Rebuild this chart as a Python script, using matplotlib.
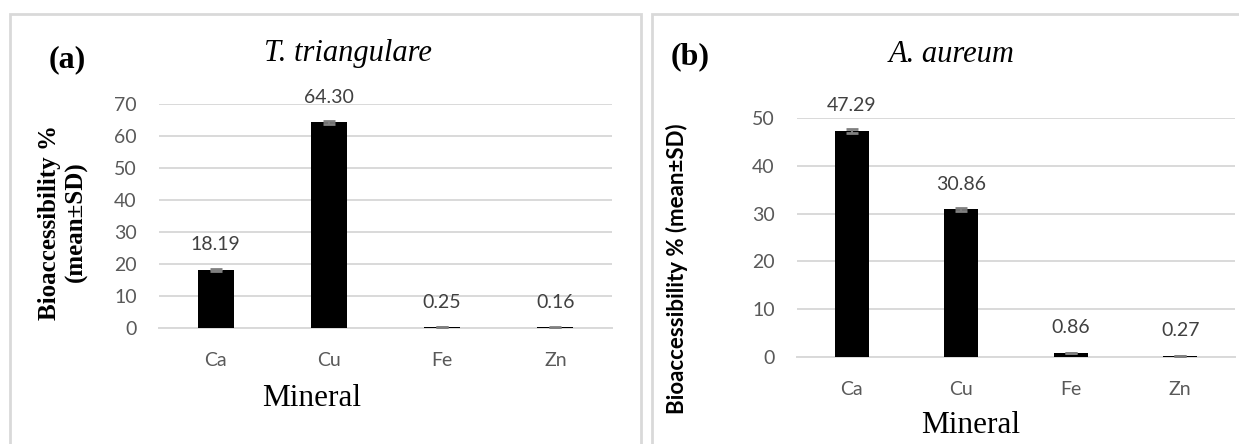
import matplotlib.pyplot as plt
from matplotlib.patches import Rectangle

minerals = ["Ca", "Cu", "Fe", "Zn"]
tri_values = [18.19, 64.30, 0.25, 0.16]
tri_sd = [0.35, 0.40, 0.05, 0.03]
aur_values = [47.29, 30.86, 0.86, 0.27]
aur_sd = [0.40, 0.35, 0.08, 0.03]
tri_yticks = [0, 10, 20, 30, 40, 50, 60, 70]
aur_yticks = [0, 10, 20, 30, 40, 50]

W, H = 1239, 444
SANS = "Lato"
SERIF = "Liberation Serif"
GRID = "#d9d9d9"


def px_box(x0, y0, x1, y1):
    # pixel box (origin top-left) -> [left, bottom, width, height] in figure fractions
    return [x0 / W, 1 - y1 / H, (x1 - x0) / W, (y1 - y0) / H]


def draw_panel(ax, values, sd, yticks, bar_w):
    x = range(len(minerals))
    ax.bar(x, values, width=bar_w, color="black", zorder=3)
    ax.errorbar(x, values, yerr=sd, fmt="none", ecolor="#808080",
                elinewidth=1.5, capsize=4.5, capthick=2, zorder=4)
    ax.set_xlim(-0.5, len(minerals) - 0.5)
    ax.set_ylim(yticks[0], yticks[-1])
    ax.set_xticks(list(x))
    ax.set_xticklabels(minerals)
    ax.set_yticks(yticks)
    ax.yaxis.grid(True, color=GRID, linewidth=1.4, zorder=0)
    ax.set_axisbelow(True)
    for side in ["top", "right", "left"]:
        ax.spines[side].set_visible(False)
    ax.spines["bottom"].set_color(GRID)
    ax.spines["bottom"].set_linewidth(1.4)
    ax.tick_params(axis="both", length=0, labelsize=14, labelcolor="#595959")
    ax.tick_params(axis="y", pad=16)
    ax.tick_params(axis="x", pad=17)
    for lab in ax.get_xticklabels() + ax.get_yticklabels():
        lab.set_fontfamily(SANS)
    for i, v in enumerate(values):
        ax.annotate(f"{v:.2f}", (i, v), xytext=(0, 25), textcoords="offset pixels",
                    ha="center", va="center", fontsize=14, color="#404040",
                    fontfamily=SANS)


fig = plt.figure(figsize=(W / 100, H / 100), dpi=100)
fig.patch.set_facecolor("white")

# panel frames
for x0, x1 in [(10, 641), (652, 1250)]:
    l, b, w, h = px_box(x0, 14, x1, 470)
    fig.add_artist(Rectangle((l, b), w, h, transform=fig.transFigure,
                             fill=False, edgecolor=GRID, linewidth=2))

ax1 = fig.add_axes(px_box(159, 104, 612, 328))
draw_panel(ax1, tri_values, tri_sd, tri_yticks, 0.32)

ax2 = fig.add_axes(px_box(797, 118, 1235, 357))
draw_panel(ax2, aur_values, aur_sd, aur_yticks, 0.31)

# panel letters and titles
fig.text(67 / W, 1 - 60 / H, "(a)", ha="center", va="center",
         fontfamily=SERIF, fontweight="bold", fontsize=23)
fig.text(690 / W, 1 - 57 / H, "(b)", ha="center", va="center",
         fontfamily=SERIF, fontweight="bold", fontsize=23)
fig.text(348 / W, 1 - 53 / H, "T. triangulare", ha="center", va="center",
         fontfamily=SERIF, fontstyle="italic", fontsize=22)
fig.text(952 / W, 1 - 55 / H, "A. aureum", ha="center", va="center",
         fontfamily=SERIF, fontstyle="italic", fontsize=22)

# axis titles
fig.text(312 / W, 1 - 398 / H, "Mineral", ha="center", va="center",
         fontfamily=SERIF, fontsize=22.5)
fig.text(971 / W, 1 - 425 / H, "Mineral", ha="center", va="center",
         fontfamily=SERIF, fontsize=22.5)
fig.text(63 / W, 1 - 222 / H, "Bioaccessibility %\n(mean±SD)", rotation=90,
         ha="center", va="center", multialignment="center", linespacing=1.2,
         fontfamily=SERIF, fontweight="bold", fontsize=18)
fig.text(677 / W, 1 - 123 / H, "Bioaccessibility % (mean±SD)", rotation=90,
         ha="center", va="top", fontfamily=SANS, fontweight="bold", fontsize=16)

fig.savefig("out.png", dpi=100)
